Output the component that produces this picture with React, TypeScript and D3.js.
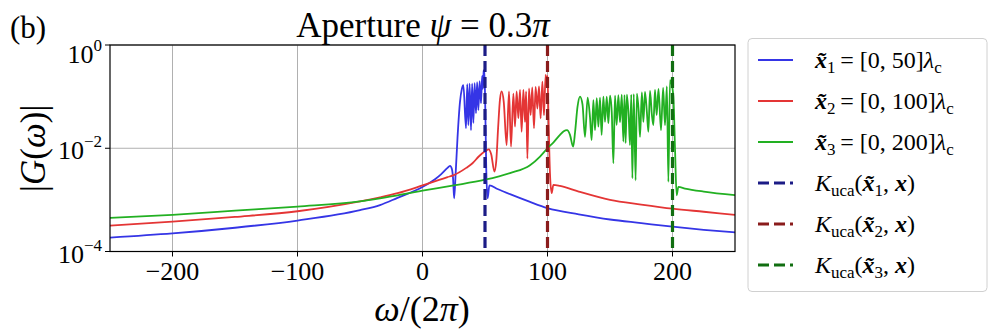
import React from 'react';
import * as d3 from 'd3';

// omega/(2pi) and log10|G(omega)|
const blueOmega = [-250, -200, -150, -100, -50, -34, -20, 0, 10, 15, 20, 22, 23.5, 24.5, 25.3, 26.5, 28, 30, 31.5, 32.7, 34.8, 35.8, 36.7, 37.7, 38.8, 39.7, 40.7, 41.7, 42.8, 43.7, 44.7, 45.7, 46.8, 47.7, 48.3, 49.0, 49.5, 50.2, 51, 52.1, 53.5, 60, 70, 85, 100, 125, 150, 175, 200, 225, 250];
const blueLog = [-3.73, -3.65, -3.54, -3.40, -3.2, -3.1, -2.96, -2.75, -2.6, -2.5, -2.38, -2.34, -2.40, -2.6, -2.97, -2.5, -1.8, -1.1, -0.85, -0.78, -1.61, -0.76, -1.55, -0.75, -1.65, -0.75, -1.51, -0.74, -1.32, -0.72, -1.26, -0.70, -1.13, -0.60, -0.85, -0.50, -0.48, -1.2, -2.4, -2.97, -2.72, -2.79, -2.89, -3.03, -3.16, -3.28, -3.38, -3.45, -3.52, -3.58, -3.63];

const redOmega = [-250, -200, -150, -100, -50, -34, -20, 0, 20, 25, 35, 40, 45, 50, 53, 55, 57.5, 59, 60.5, 62, 63.3, 65, 67.3, 69.2, 70.8, 72.7, 74, 75.3, 76.7, 78, 79.3, 80.7, 82, 82.9, 83.9, 85.2, 86.5, 87.8, 89.2, 90.5, 91.9, 93.2, 94.5, 95.9, 97.2, 98.5, 99.3, 100.0, 100.8, 102, 103.3, 104.7, 110, 125, 150, 175, 200, 225, 250];
const redLog = [-3.50, -3.42, -3.33, -3.22, -3.03, -2.95, -2.87, -2.72, -2.56, -2.52, -2.38, -2.29, -2.16, -2.06, -2.02, -2.12, -2.45, -2.25, -1.6, -1.05, -0.90, -1.1, -1.94, -0.90, -1.97, -0.94, -1.58, -0.90, -1.42, -0.87, -1.68, -0.87, -1.49, -0.9, -2.20, -0.84, -1.36, -0.82, -1.61, -0.81, -1.23, -0.80, -1.42, -0.71, -1.36, -0.58, -0.75, -0.60, -1.4, -2.5, -2.87, -2.71, -2.73, -2.84, -3.0, -3.09, -3.17, -3.23, -3.29];

const greenOmega = [-250, -200, -150, -100, -50, -34, 0, 25, 50, 70, 86, 94, 100, 105, 110, 113, 115.6, 118, 120.5, 122, 124, 126, 128, 130, 132.1, 134, 135.3, 136.7, 138, 139.4, 140.7, 142, 143.3, 144.7, 146, 147.4, 148.7, 150, 151.4, 152.7, 154, 155.3, 156.7, 158, 159.4, 160.7, 161.6, 162.5, 163.5, 165, 166, 167, 167.9, 169, 170.5, 171.5, 173, 174, 175.5, 176.7, 178, 179.5, 180.7, 182, 183.5, 184.7, 186, 187.3, 188.8, 190.8, 192.5, 194, 195.5, 196.7, 198, 199, 200.7, 202, 203.3, 204.7, 210, 225, 250];
const greenLog = [-3.35, -3.29, -3.21, -3.13, -3.03, -2.97, -2.82, -2.72, -2.61, -2.48, -2.33, -2.16, -2.0, -1.88, -1.74, -1.67, -1.65, -1.74, -1.97, -1.7, -1.2, -1.0, -1.15, -1.78, -1.02, -1.4, -1.84, -1.07, -1.65, -1.03, -1.58, -1.02, -1.74, -1.0, -1.49, -1.0, -1.52, -0.98, -1.3, -2.29, -0.98, -1.55, -0.97, -1.50, -0.96, -1.87, -0.97, -1.90, -0.96, -1.4, -1.94, -0.96, -2.58, -0.95, -2.62, -0.94, -1.3, -1.78, -0.92, -1.49, -0.91, -1.3, -1.68, -0.89, -1.35, -1.55, -0.87, -1.36, -0.85, -1.65, -0.83, -1.55, -0.80, -2.65, -0.68, -0.72, -1.0, -2.0, -2.91, -2.75, -2.78, -2.84, -2.91];

const kernelOmega = [50, 100, 200];
const xTicks = [-200, -100, 0, 100, 200];
const yTickExps = [0, -2, -4];

const curveColors = ['#3535e6', '#e43535', '#22b022'];
const kernelColors = ['#1c1c86', '#8a1c1c', '#116e11'];

const W = 996, H = 334;
const left = 110, right = 735, top = 45, bottom = 251.5;
const font = '"Liberation Serif", "DejaVu Serif", serif';

const App = () => {
  const x = d3.scaleLinear().domain([-250, 250]).range([left, right]);
  const y = d3.scaleLog().domain([1e-4, 1]).range([bottom, top]);
  const line = d3.line<[number, number]>()
    .x(d => x(d[0]))
    .y(d => y(Math.pow(10, d[1])))
    .curve(d3.curveMonotoneX);

  const series: [number, number][][] = [
    blueOmega.map((o, i) => [o, blueLog[i]]),
    redOmega.map((o, i) => [o, redLog[i]]),
    greenOmega.map((o, i) => [o, greenLog[i]]),
  ];

  const bx = (s: string) => <tspan fontWeight="bold" fontStyle="italic">{s}</tspan>;
  const sub = (s: string) => <tspan fontSize="17" dy="5">{s}</tspan>;
  const legendRows = [
    <>{bx('x\u0303')}{sub('1')}<tspan dy="-5">{'\u2009= [0, 50]'}</tspan><tspan fontStyle="italic">λ</tspan>{sub('c')}</>,
    <>{bx('x\u0303')}{sub('2')}<tspan dy="-5">{'\u2009= [0, 100]'}</tspan><tspan fontStyle="italic">λ</tspan>{sub('c')}</>,
    <>{bx('x\u0303')}{sub('3')}<tspan dy="-5">{'\u2009= [0, 200]'}</tspan><tspan fontStyle="italic">λ</tspan>{sub('c')}</>,
    <><tspan fontStyle="italic">K</tspan>{sub('uca')}<tspan dy="-5">(</tspan>{bx('x\u0303')}{sub('1')}<tspan dy="-5">, </tspan>{bx('x')}<tspan>)</tspan></>,
    <><tspan fontStyle="italic">K</tspan>{sub('uca')}<tspan dy="-5">(</tspan>{bx('x\u0303')}{sub('2')}<tspan dy="-5">, </tspan>{bx('x')}<tspan>)</tspan></>,
    <><tspan fontStyle="italic">K</tspan>{sub('uca')}<tspan dy="-5">(</tspan>{bx('x\u0303')}{sub('3')}<tspan dy="-5">, </tspan>{bx('x')}<tspan>)</tspan></>,
  ];

  return (
    <svg width={W} height={H} style={{ position: 'absolute', left: 0, top: 0, background: '#fff' }} fontFamily={font}>
      <defs>
        <clipPath id="plot"><rect x={left} y={top} width={right - left} height={bottom - top} /></clipPath>
      </defs>

      {/* grid */}
      {xTicks.map(t => (
        <line key={'gx' + t} x1={x(t)} x2={x(t)} y1={top} y2={bottom} stroke="#b0b0b0" strokeWidth={1} />
      ))}
      {yTickExps.map(e => (
        <line key={'gy' + e} x1={left} x2={right} y1={y(Math.pow(10, e))} y2={y(Math.pow(10, e))} stroke="#b0b0b0" strokeWidth={1} />
      ))}

      <g clipPath="url(#plot)">
        {series.map((s, i) => (
          <path key={'s' + i} d={line(s) || ''} fill="none" stroke={curveColors[i]} strokeWidth={1.8} strokeLinejoin="round" />
        ))}
        {kernelOmega.map((k, i) => (
          <line key={'k' + i} x1={x(k)} x2={x(k)} y1={top} y2={bottom} stroke={kernelColors[i]} strokeWidth={3.2} strokeDasharray="11,5" />
        ))}
      </g>

      {/* frame */}
      <rect x={left} y={top} width={right - left} height={bottom - top} fill="none" stroke="#000" strokeWidth={1.2} />

      {/* x ticks */}
      {xTicks.map(t => (
        <g key={'xt' + t}>
          <line x1={x(t)} x2={x(t)} y1={bottom} y2={bottom + 5} stroke="#000" />
          <text x={x(t)} y={bottom + 28} fontSize="26" textAnchor="middle">{t < 0 ? '\u2212' + Math.abs(t) : t}</text>
        </g>
      ))}

      {/* y ticks */}
      {yTickExps.map(e => {
        const yy = y(Math.pow(10, e));
        return (
          <g key={'yt' + e}>
            <line x1={left - 5} x2={left} y1={yy} y2={yy} stroke="#000" />
            <text x={left - 8} y={yy + (e === 0 ? 18 : 11)} fontSize="26" textAnchor="end">
              10<tspan fontSize="17" dy="-12">{e < 0 ? '\u2212' + Math.abs(e) : e}</tspan>
            </text>
          </g>
        );
      })}

      {/* labels */}
      <text x={10} y={38} fontSize="31">(b)</text>
      <text x={423} y={37} fontSize="35" textAnchor="middle">
        Aperture <tspan fontStyle="italic">ψ</tspan> = 0.3<tspan fontStyle="italic">π</tspan>
      </text>
      <text x={422} y={321} fontSize="36" textAnchor="middle">
        <tspan fontStyle="italic">ω</tspan>/(2<tspan fontStyle="italic">π</tspan>)
      </text>
      <text transform={`translate(45,${(top + bottom) / 2}) rotate(-90)`} fontSize="35" textAnchor="middle">
        |<tspan fontStyle="italic">G</tspan>(<tspan fontStyle="italic">ω</tspan>)|
      </text>

      {/* legend */}
      <rect x={748} y={38.5} width={239} height={253} rx={4} fill="#fff" stroke="#d0d0d0" strokeWidth={1} />
      {legendRows.map((row, i) => {
        const ly = 60 + i * 41;
        const solid = i < 3;
        return (
          <g key={'lg' + i}>
            <line x1={758} x2={793} y1={ly} y2={ly}
              stroke={solid ? curveColors[i] : kernelColors[i - 3]}
              strokeWidth={solid ? 1.8 : 3.2}
              strokeDasharray={solid ? undefined : '11,5'} />
            <text x={815} y={ly + 8} fontSize="24">{row}</text>
          </g>
        );
      })}
    </svg>
  );
};

export default App;
